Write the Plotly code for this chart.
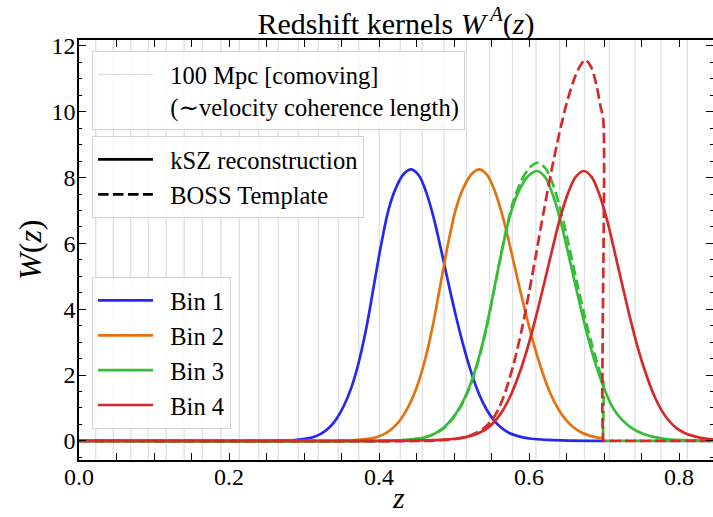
import plotly.graph_objects as go

# ---------------- data ----------------
# positions of vertical lines spaced by 100 Mpc comoving
grid_z = [0.0223, 0.0457, 0.0689, 0.0924, 0.1164, 0.1402, 0.1644, 0.1891, 0.2137,
          0.2396, 0.2657, 0.2924, 0.3191, 0.3457, 0.3729, 0.4004, 0.4284, 0.4577,
          0.4867, 0.5164, 0.5474, 0.5780, 0.6092, 0.6408, 0.6740, 0.7072, 0.7414,
          0.7760, 0.8110]

# kSZ reconstruction kernels
z_bin1 = [0.0, 0.25, 0.27, 0.283, 0.293, 0.303, 0.313, 0.323, 0.333, 0.343, 0.353, 0.363,
          0.373, 0.383, 0.393, 0.403, 0.413, 0.423, 0.433, 0.443, 0.453, 0.463, 0.473,
          0.483, 0.493, 0.503, 0.513, 0.523, 0.533, 0.543, 0.553, 0.563, 0.573, 0.583,
          0.593, 0.603, 0.623, 0.643, 0.70]
w_bin1 = [0.0, 0.0, 0.01, 0.02, 0.04, 0.07, 0.12, 0.22, 0.39, 0.66, 1.06, 1.61,
          2.39, 3.42, 4.70, 5.98, 7.05, 7.71, 8.11, 8.25, 8.07, 7.55, 6.77,
          5.78, 4.74, 3.75, 2.85, 2.08, 1.44, 0.97, 0.63, 0.40, 0.25, 0.16,
          0.10, 0.066, 0.033, 0.016, 0.0]

z_bin2 = [0.0, 0.34, 0.3555, 0.366, 0.3765, 0.387, 0.3975, 0.408, 0.4185, 0.429, 0.4395,
          0.450, 0.4605, 0.471, 0.4815, 0.492, 0.5025, 0.513, 0.5235, 0.534, 0.5445,
          0.555, 0.5655, 0.576, 0.5865, 0.597, 0.6075, 0.618, 0.6285, 0.639, 0.6495,
          0.660, 0.6705, 0.681, 0.6915, 0.70]
w_bin2 = [0.0, 0.0, 0.01, 0.02, 0.04, 0.07, 0.12, 0.22, 0.39, 0.66, 1.06,
          1.61, 2.39, 3.42, 4.70, 5.98, 7.05, 7.71, 8.11, 8.25, 8.07,
          7.55, 6.77, 5.78, 4.74, 3.75, 2.85, 2.08, 1.44, 0.97, 0.63,
          0.40, 0.25, 0.16, 0.10, 0.07]

z_bin3 = [0.0, 0.41, 0.4286, 0.440, 0.4514, 0.4628, 0.4742, 0.4856, 0.497, 0.5084, 0.5198,
          0.5312, 0.5426, 0.554, 0.5654, 0.5768, 0.5882, 0.5996, 0.611, 0.6212, 0.6314,
          0.6416, 0.6518, 0.662, 0.6722, 0.6824, 0.6926, 0.7028, 0.713, 0.7232, 0.7334,
          0.7436, 0.7538, 0.764, 0.7844, 0.815, 0.8453]
w_bin3 = [0.0, 0.0, 0.02, 0.04, 0.07, 0.12, 0.22, 0.39, 0.66, 1.05, 1.60,
          2.38, 3.40, 4.67, 5.95, 7.01, 7.67, 8.06, 8.20, 8.02, 7.50,
          6.72, 5.74, 4.72, 3.73, 2.83, 2.07, 1.44, 0.96, 0.66, 0.45,
          0.30, 0.20, 0.13, 0.05, 0.02, 0.0]

z_bin4 = [0.0, 0.42, 0.4376, 0.459, 0.4804, 0.5018, 0.5125, 0.5232, 0.5339, 0.5446, 0.5553,
          0.566, 0.5767, 0.5874, 0.5981, 0.6088, 0.6195, 0.6302, 0.6409, 0.6516, 0.6623,
          0.673, 0.6833, 0.6936, 0.7039, 0.7142, 0.7245, 0.7348, 0.7451, 0.7554, 0.7657,
          0.776, 0.7863, 0.7966, 0.8069, 0.8172, 0.8275, 0.8378, 0.8453]
w_bin4 = [0.0, 0.0, 0.008, 0.016, 0.033, 0.066, 0.10, 0.16, 0.25, 0.39, 0.62,
          0.96, 1.44, 2.07, 2.83, 3.73, 4.72, 5.74, 6.72, 7.50, 8.02,
          8.20, 8.02, 7.50, 6.72, 5.74, 4.72, 3.73, 2.83, 2.07, 1.44,
          0.96, 0.62, 0.39, 0.25, 0.16, 0.10, 0.066, 0.045]

# BOSS template kernels (bins 3 and 4), which stop at z = 0.7
z_boss3 = [0.0, 0.41, 0.4301, 0.4415, 0.4529, 0.4643, 0.4757, 0.4871, 0.4985, 0.5099,
           0.5213, 0.5327, 0.5441, 0.5555, 0.5669, 0.5783, 0.5897, 0.6011, 0.6125,
           0.6227, 0.6329, 0.6431, 0.6533, 0.6635, 0.6737, 0.6839, 0.6941, 0.699,
           0.6995, 0.7005, 0.8453]
w_boss3 = [0.0, 0.0, 0.02, 0.04, 0.07, 0.13, 0.23, 0.40, 0.68, 1.08,
           1.65, 2.45, 3.51, 4.82, 6.13, 7.22, 7.90, 8.31, 8.45,
           8.26, 7.73, 6.93, 5.92, 4.86, 3.84, 2.92, 2.13, 1.80,
           0.0, 0.0, 0.0]

z_boss4 = [0.0, 0.46, 0.48, 0.49, 0.50, 0.51, 0.52, 0.53, 0.54, 0.55, 0.56, 0.57, 0.58,
           0.59, 0.60, 0.61, 0.62, 0.63, 0.64, 0.65, 0.66, 0.667, 0.675, 0.683, 0.69,
           0.695, 0.699, 0.6995, 0.7005, 0.8453]
w_boss4 = [0.0, 0.0, 0.015, 0.03, 0.05, 0.09, 0.15, 0.25, 0.39, 0.62, 1.00, 1.60, 2.38,
           3.35, 4.50, 5.75, 7.02, 8.22, 9.30, 10.25, 10.98, 11.35, 11.58, 11.35, 10.80,
           10.20, 9.75, 0.0, 0.0, 0.0]

bin_names = ["Bin 1", "Bin 2", "Bin 3", "Bin 4"]
bin_colors = ["#2727f2", "#e3720f", "#38bd38", "#d62a2a"]
style_names = ["kSZ reconstruction", "BOSS Template"]
grid_label = ["100 Mpc [comoving]", "(\u223cvelocity coherence length)"]

x_ticks = [0.0, 0.2, 0.4, 0.6, 0.8]
y_ticks = [0, 2, 4, 6, 8, 10, 12]

x_range = [0.0, 0.8453]
y_range = [-0.58, 12.18]

FONT = "Liberation Serif, DejaVu Serif, serif"
GRID = "#e1e1e1"
LW = 2.7
DASH = "10.5px,4.5px"
PAD = "\u00a0\u00a0"

fig = go.Figure()

# vertical 100 Mpc lines
for zg in grid_z:
    fig.add_shape(type="line", xref="x", yref="paper", x0=zg, x1=zg, y0=0, y1=1,
                  line=dict(color=GRID, width=1.4), layer="below")

# legend 1 entry for the grid lines
fig.add_trace(go.Scatter(x=[None], y=[None], mode="lines",
                         line=dict(color=GRID, width=1.4),
                         name="<br>".join(PAD + t for t in grid_label),
                         legend="legend"))

# legend 2 entries for styles
fig.add_trace(go.Scatter(x=[None], y=[None], mode="lines",
                         line=dict(color="black", width=LW),
                         name=PAD + style_names[0], legend="legend2"))
fig.add_trace(go.Scatter(x=[None], y=[None], mode="lines",
                         line=dict(color="black", width=LW, dash=DASH),
                         name=PAD + style_names[1], legend="legend2"))

zs = [z_bin1, z_bin2, z_bin3, z_bin4]
ws = [w_bin1, w_bin2, w_bin3, w_bin4]
boss = {2: (z_boss3, w_boss3), 3: (z_boss4, w_boss4)}

for i in range(4):
    fig.add_trace(go.Scatter(x=zs[i], y=ws[i], mode="lines",
                             line=dict(color=bin_colors[i], width=LW, shape="spline", smoothing=1.0),
                             name=PAD + bin_names[i], legend="legend3"))
    if i in boss:
        zb, wb = boss[i]
        fig.add_trace(go.Scatter(x=zb, y=wb, mode="lines",
                                 line=dict(color=bin_colors[i], width=LW, dash=DASH,
                                           shape="spline", smoothing=0.8),
                                 showlegend=False))

# invisible trace on the right-hand tick axis
fig.add_trace(go.Scatter(x=[None], y=[None], yaxis="y2", showlegend=False, hoverinfo="skip"))

legend_common = dict(
    font=dict(family=FONT, size=24.5, color="black"),
    bgcolor="rgba(255,255,255,0.8)", bordercolor="#d2d2d2", borderwidth=1,
    xanchor="left", yanchor="top", itemwidth=55, valign="top",
    itemclick=False, itemdoubleclick=False,
)

fig.update_layout(
    width=713, height=517,
    margin=dict(l=79, r=0, t=40, b=57),
    paper_bgcolor="white", plot_bgcolor="white",
    font=dict(family=FONT, color="black"),
    title=dict(text="Redshift kernels <i>W</i><sup>\u2009<i>A</i></sup>(<i>z</i>)",
               x=0.5, xref="paper", xanchor="center",
               y=1 - 23 / 517, yref="container", yanchor="middle",
               font=dict(family=FONT, size=30, color="black")),
    xaxis=dict(range=x_range, tickvals=x_ticks, ticktext=[f"{v:.1f}" for v in x_ticks],
               ticks="inside", ticklen=7, tickwidth=1.2, tickcolor="black",
               showline=True, linecolor="black", linewidth=1.6, mirror="allticks",
               showgrid=False, zeroline=False, ticklabelstandoff=-6,
               minor=dict(ticks="inside", ticklen=3.5, tickwidth=1, tickcolor="black", dtick=0.05),
               tickfont=dict(family=FONT, size=24, color="black")),
    yaxis=dict(range=y_range, tickvals=y_ticks, ticktext=[str(v) for v in y_ticks],
               ticks="inside", ticklen=7, tickwidth=1.2, tickcolor="black",
               showline=True, linecolor="black", linewidth=1.6, mirror=False,
               showgrid=False, zeroline=False, ticklabelstandoff=-3,
               minor=dict(ticks="inside", ticklen=3.5, tickwidth=1, tickcolor="black", dtick=0.5),
               tickfont=dict(family=FONT, size=24, color="black")),
    yaxis2=dict(range=y_range, overlaying="y", side="right", tickvals=y_ticks,
                showticklabels=False, ticks="inside", ticklen=7, tickwidth=1.2,
                tickcolor="black", showline=False, showgrid=False, zeroline=False,
                minor=dict(ticks="inside", ticklen=3.5, tickwidth=1, tickcolor="black", dtick=0.5)),
    legend=dict(x=(92 - 79) / 633, y=(460 - 51) / 420, **legend_common),
    legend2=dict(x=(92 - 79) / 633, y=(460 - 136) / 420, **legend_common),
    legend3=dict(x=(92 - 79) / 633, y=(460 - 277) / 420, **legend_common),
    showlegend=True,
)

fig.add_annotation(text="<i>W</i>(<i>z</i>)", xref="paper", yref="paper",
                   x=(30 - 79) / 633, y=0.5, xanchor="center", yanchor="middle",
                   textangle=-90, showarrow=False,
                   font=dict(family=FONT, size=32, color="black"))
fig.add_annotation(text="<i>z</i>", xref="paper", yref="paper",
                   x=(398 - 79) / 633, y=(460 - 516) / 420, xanchor="center", yanchor="bottom",
                   showarrow=False, font=dict(family=FONT, size=30, color="black"))

fig.write_html("out.html")
